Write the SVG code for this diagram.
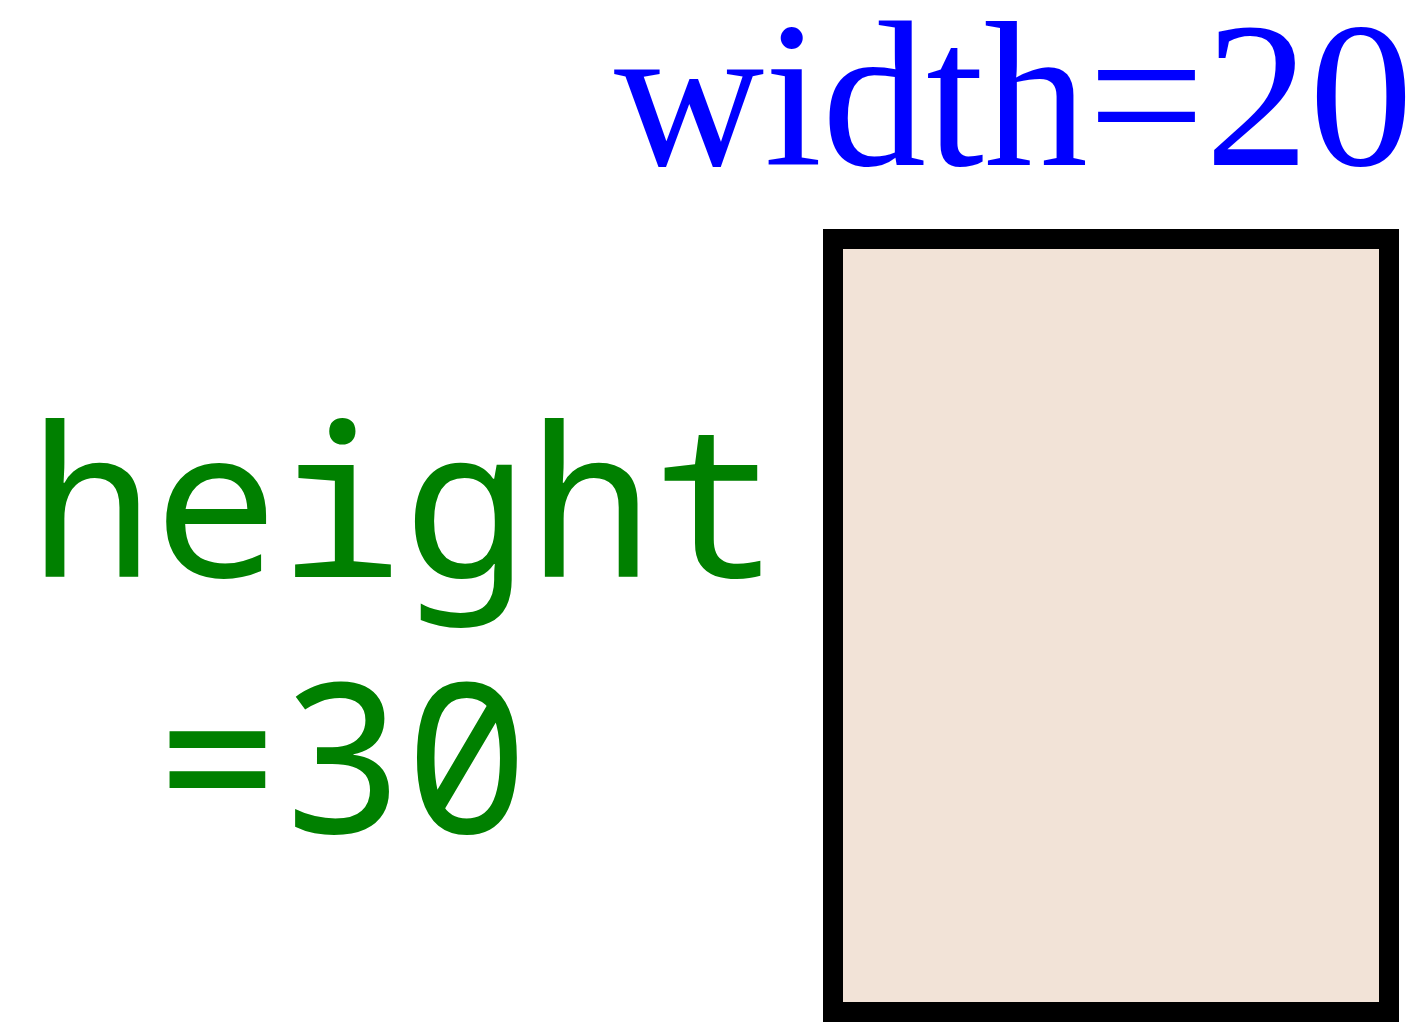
<svg xmlns="http://www.w3.org/2000/svg" width="1426" height="1024" viewBox="0 0 1426 1024">
<style>
.w{font-family:"Liberation Serif",serif;font-size:208px;fill:#0000ff}
.h{font-family:"Noto Sans Mono","DejaVu Sans Mono",monospace;font-size:208px;fill:#008000}
</style>
<rect width="1426" height="1024" fill="#ffffff"/>
<g id="box"><rect x="833" y="239" width="556" height="773" fill="#f2e3d7" stroke="#000000" stroke-width="20"/></g>
<g id="width-label"><text class="w" x="614" y="165">width=20</text></g>
<g id="height-label"><text class="h" x="29" y="577">height</text><text class="h" x="155" y="833">=30</text></g>
</svg>
